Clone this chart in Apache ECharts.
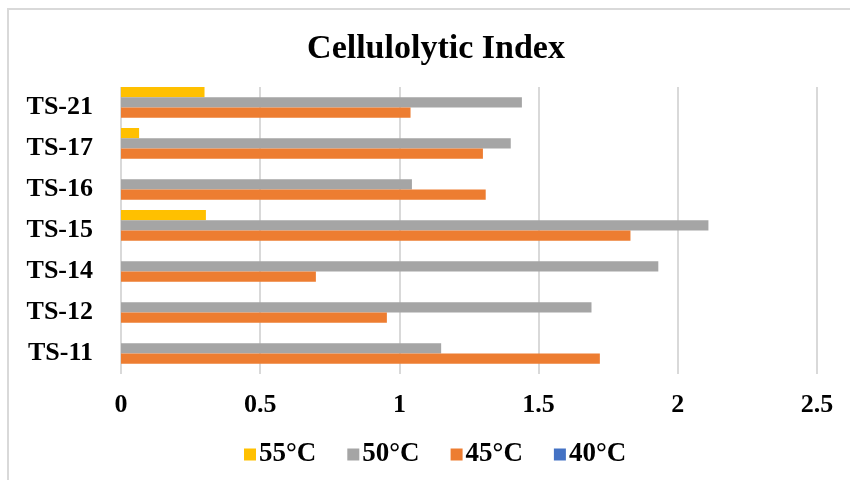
<!DOCTYPE html>
<html>
<head>
<meta charset="utf-8">
<script src="https://cdn.jsdelivr.net/npm/echarts@6/dist/echarts.min.js"></script>
<style>html,body{margin:0;padding:0;background:#fff}#c{width:850px;height:480px}</style>
</head>
<body>
<div id="c"></div>
<script>
const categories = ['TS-11', 'TS-12', 'TS-14', 'TS-15', 'TS-16', 'TS-17', 'TS-21'];
const seriesNames = ['55°C', '50°C', '45°C', '40°C'];
const values55 = [0, 0, 0, 0.305, 0, 0.065, 0.30];
const values50 = [1.15, 1.69, 1.93, 2.11, 1.045, 1.40, 1.44];
const values45 = [1.72, 0.955, 0.70, 1.83, 1.31, 1.30, 1.04];
const values40 = [0, 0, 0, 0, 0, 0, 0];
const xTicks = [0, 0.5, 1, 1.5, 2, 2.5];
const legendOrder = ['55°C', '50°C', '45°C', '40°C'];
const colors = { '40°C': '#4472C4', '45°C': '#ED7D31', '50°C': '#A5A5A5', '55°C': '#FFC000' };
const allValues = [values55, values50, values45, values40];

const font = '"Liberation Serif", "Times New Roman", serif';
const chart = echarts.init(document.getElementById('c'), null, { renderer: 'canvas' });
chart.setOption({
  animation: false,
  backgroundColor: '#fff',
  title: {
    text: 'Cellulolytic Index',
    left: 431, top: 27, textAlign: 'center',
    textStyle: { fontFamily: font, fontWeight: 'bold', fontSize: 34, color: '#000' }
  },
  legend: {
    data: legendOrder,
    left: 239, top: 436,
    itemWidth: 12, itemHeight: 12, itemGap: 31,
    icon: 'rect',
    textStyle: { fontFamily: font, fontWeight: 'bold', fontSize: 27, color: '#000', padding: [0, 0, 0, -2] }
  },
  grid: { left: 121, right: 33, top: 87, bottom: 106, containLabel: false },
  xAxis: {
    type: 'value', min: xTicks[0], max: xTicks[xTicks.length - 1], interval: 0.5,
    axisLine: { show: false }, axisTick: { show: false },
    splitLine: { show: true, lineStyle: { color: '#d9d9d9', width: 2 } },
    axisLabel: { fontFamily: font, fontWeight: 'bold', fontSize: 26, color: '#000', margin: 18 }
  },
  yAxis: {
    type: 'category', data: categories,
    axisLine: { show: false }, axisTick: { show: false },
    axisLabel: { fontFamily: font, fontWeight: 'bold', fontSize: 26, color: '#000', margin: 28 }
  },
  graphic: [{
    type: 'polyline',
    shape: { points: [[8, 480], [8, 9], [850, 9]] },
    style: { stroke: '#d9d9d9', lineWidth: 2, fill: null }
  }],
  series: seriesNames.map((n, i) => ({
    name: n, type: 'bar', data: allValues[i],
    barGap: '0%', barCategoryGap: '0%',
    itemStyle: { color: colors[n] }
  }))
});
</script>
</body>
</html>
